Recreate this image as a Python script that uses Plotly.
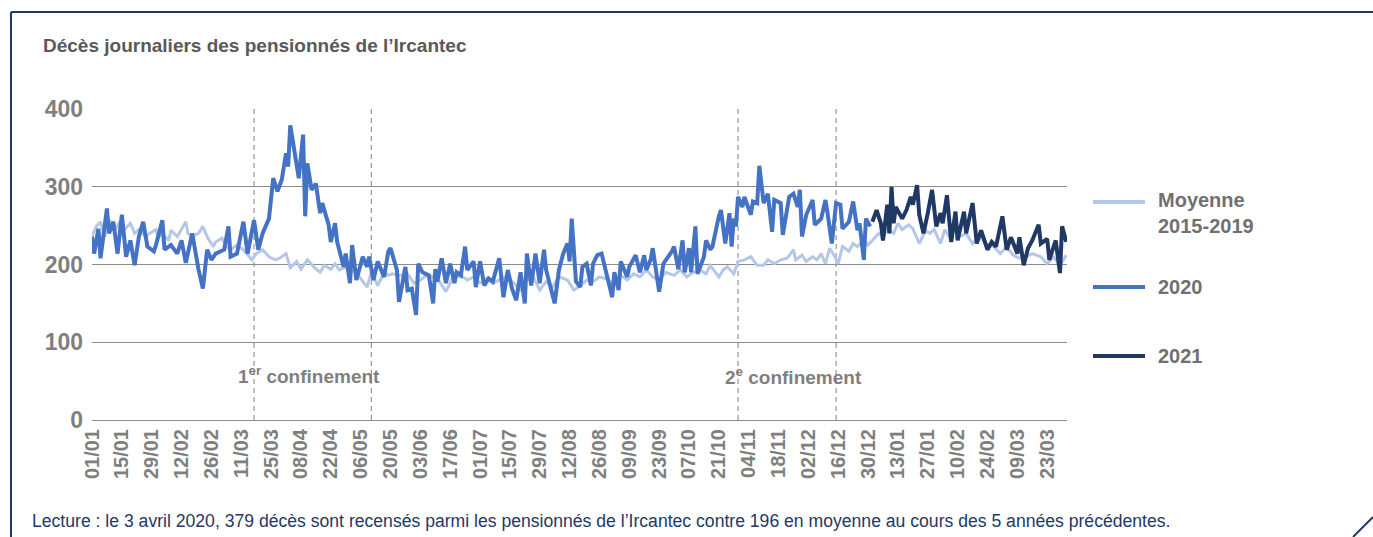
import pandas as pd
import plotly.graph_objects as go

START = pd.Timestamp("2020-01-01")

# Moyenne 2015-2019 (days since 01/01/2020, daily deaths)
days_moy = [0,2,4,6,8,11,13,15,18,20,22,25,27,30,31,33,36,37,40,42,44,45,47,50,52,54,55,57,58,61,63,65,68,71,75,77,80,83,86,88,91,93,96,98,101,104,107,109,112,114,116,119,121,123,126,129,131,134,137,139,141,144,148,151,154,157,160,163,166,169,173,176,179,182,185,188,191,194,198,201,204,207,210,213,216,219,223,226,229,232,235,238,241,244,248,251,254,257,260,263,266,269,273,276,279,282,285,288,290,294,296,298,301,303,306,309,312,315,317,320,323,326,329,330,333,335,338,340,342,344,346,348,350,352,355,357,359,362,364,366,369,371,373,376,378,380,383,385,388,391,393,395,398,400,402,405,407,410,413,416,420,423,426,429,432,435,438,441,445,448,451,454,457]
vals_moy = [236,249,255,236,257,245,255,244,253,240,245,236,240,245,234,240,231,244,236,245,255,240,236,240,249,236,231,223,229,234,223,219,225,219,206,214,219,210,206,208,214,196,204,194,206,197,190,199,194,201,193,197,188,193,182,171,190,173,190,186,188,186,188,176,180,186,184,178,165,182,186,180,184,176,182,176,180,184,176,167,180,184,167,178,171,184,180,167,173,180,178,184,182,176,186,180,188,184,193,184,180,190,186,193,184,190,193,188,199,184,193,197,188,204,206,210,199,199,206,201,206,208,219,206,212,204,210,206,214,201,221,212,201,223,217,227,223,231,225,231,240,236,245,240,253,245,251,246,227,244,240,245,227,245,236,245,236,240,227,236,225,223,214,223,212,208,210,214,210,201,210,199,212]

# 2020
days_2020 = [0,1,3,4,7,8,10,12,14,16,18,20,22,24,26,29,30,33,34,37,40,42,44,47,50,52,54,56,58,62,64,65,68,71,73,76,78,80,83,85,87,89,91,92,93,96,97,99,100,101,103,105,107,108,111,112,114,115,118,119,121,122,124,127,129,130,132,134,137,139,140,143,144,147,148,150,152,153,155,158,160,161,162,164,166,168,170,171,173,175,176,179,180,182,184,186,188,191,193,195,197,199,201,203,204,206,208,210,212,213,215,217,219,221,223,224,225,227,229,230,232,234,235,237,239,241,244,245,247,248,251,252,255,257,259,260,262,263,266,268,270,272,273,275,277,278,280,281,283,284,287,288,290,291,294,295,297,299,300,301,302,303,305,306,309,310,312,313,315,317,319,320,323,324,327,329,331,332,333,335,338,339,342,344,345,347,349,351,352,355,357,359,360,362,363,365]
vals_2020 = [236,214,246,208,272,240,255,214,264,210,231,199,236,255,223,217,225,257,219,225,214,231,202,240,193,169,219,206,214,219,249,210,214,255,214,257,219,240,259,311,294,309,343,326,379,326,311,367,262,330,296,304,266,279,251,229,253,229,197,214,176,225,180,210,197,210,180,204,184,217,221,193,152,197,167,169,135,201,190,186,150,194,178,208,176,201,176,190,186,223,193,204,171,204,173,182,178,208,158,193,169,154,190,150,214,173,214,176,219,193,169,150,193,214,227,204,259,178,171,197,201,173,201,212,214,193,158,190,167,204,184,197,212,190,212,193,206,221,165,201,208,217,223,194,231,190,221,190,249,188,210,231,219,223,262,270,227,266,223,259,249,287,274,287,264,281,279,327,279,291,242,283,279,238,287,291,274,296,236,264,283,251,259,283,266,227,279,277,246,255,281,244,253,206,259,249]

# 2021
days_2021 = [366,368,370,371,373,374,375,376,377,380,382,384,385,387,388,390,392,394,396,398,399,401,403,405,406,409,410,413,415,417,420,422,424,427,429,431,434,435,437,439,441,444,445,448,449,452,454,455,457]
vals_2021 = [255,270,253,231,277,240,300,253,274,259,270,287,277,302,264,240,266,296,249,266,253,289,229,268,231,268,240,279,227,244,219,229,223,262,219,235,214,235,199,221,231,251,227,233,206,231,189,249,229]

confinements = [("2020-03-17", "2020-05-11"), ("2020-10-30", "2020-12-15")]
tick_text = ["01/01", "15/01", "29/01", "12/02", "26/02", "11/03", "25/03", "08/04", "22/04", "06/05",
             "20/05", "03/06", "17/06", "01/07", "15/07", "29/07", "12/08", "26/08", "09/09", "23/09",
             "07/10", "21/10", "04/11", "18/11", "02/12", "16/12", "30/12", "13/01", "27/01", "10/02",
             "24/02", "09/03", "23/03"]
tick_dates = [START + pd.Timedelta(days=14 * i) for i in range(len(tick_text))]

def to_dates(days):
    return [START + pd.Timedelta(days=d) for d in days]

C_MOY = "#b4c7e7"
C_2020 = "#4472c4"
C_2021 = "#1f3864"
GRAY = "#7f7f7f"
NAVY = "#1f3864"
FONT = "Liberation Sans, Arial, sans-serif"

fig = go.Figure()
fig.add_trace(go.Scatter(x=to_dates(days_moy), y=vals_moy, mode="lines",
                         line=dict(color=C_MOY, width=3), name="Moyenne 2015-2019"))
fig.add_trace(go.Scatter(x=to_dates(days_2020), y=vals_2020, mode="lines",
                         line=dict(color=C_2020, width=4), name="2020"))
fig.add_trace(go.Scatter(x=to_dates(days_2021), y=vals_2021, mode="lines",
                         line=dict(color=C_2021, width=4), name="2021"))

shapes = []
for a, b in confinements:
    for d in (a, b):
        shapes.append(dict(type="line", xref="x", yref="y", x0=d, x1=d, y0=0, y1=412,
                           line=dict(color="#808080", width=1, dash="5px,4px"), layer="below"))

# legend (custom)
L, W, T, H = 92, 975, 109, 311
def px(x): return (x - L) / W
def py(y): return (T + H - y) / H

leg = [("Moyenne<br>2015-2019", C_MOY, 202, 213), ("2020", C_2020, 287, 287), ("2021", C_2021, 356, 356)]
annotations = []
for text, col, yl, yt in leg:
    shapes.append(dict(type="line", xref="paper", yref="paper", x0=px(1093), x1=px(1145),
                       y0=py(yl), y1=py(yl), line=dict(color=col, width=4)))
    annotations.append(dict(xref="paper", yref="paper", x=px(1156), y=py(yt), xanchor="left",
                            yanchor="middle", text=text, showarrow=False, align="left",
                            font=dict(family=FONT, size=20, color="#707070", weight="bold")))

# frame
shapes.append(dict(type="line", xref="paper", yref="paper", x0=px(11), x1=px(1373), y0=py(12), y1=py(12),
                   line=dict(color=NAVY, width=2)))
shapes.append(dict(type="line", xref="paper", yref="paper", x0=px(11), x1=px(11), y0=py(12), y1=py(537),
                   line=dict(color=NAVY, width=2)))
shapes.append(dict(type="line", xref="paper", yref="paper", x0=px(1353), x1=px(1373), y0=py(537), y1=py(517),
                   line=dict(color=NAVY, width=2)))

annotations.append(dict(xref="x", yref="y", x="2020-04-12", y=58, text="1<sup>er</sup> confinement",
                        showarrow=False, font=dict(family=FONT, size=19, color=GRAY, weight="bold")))
annotations.append(dict(xref="x", yref="y", x="2020-11-25", y=56, text="2<sup>e</sup> confinement",
                        showarrow=False, font=dict(family=FONT, size=19, color=GRAY, weight="bold")))
annotations.append(dict(xref="paper", yref="paper", x=px(30), y=py(521), xanchor="left", yanchor="middle",
                        text="Lecture : le 3 avril 2020, 379 décès sont recensés parmi les pensionnés de l’Ircantec contre 196 en moyenne au cours des 5 années précédentes.",
                        showarrow=False, font=dict(family=FONT, size=17.6, color=NAVY)))
annotations.append(dict(xref="paper", yref="paper", x=px(41), y=py(45), xanchor="left", yanchor="middle",
                        text="Décès journaliers des pensionnés de l’Ircantec", showarrow=False,
                        font=dict(family=FONT, size=19, color="#595959", weight="bold")))

fig.update_layout(
    width=1373, height=537, autosize=False,
    margin=dict(l=L, r=1373 - L - W, t=T, b=537 - T - H),
    paper_bgcolor="white", plot_bgcolor="white",
    showlegend=False, shapes=shapes, annotations=annotations,
    xaxis=dict(range=[START, START + pd.Timedelta(days=457.3)], tickvals=tick_dates, ticktext=tick_text,
               tickangle=-90, showgrid=False, zeroline=False, showline=False, ticks="",
               ticklabelstandoff=4,
               tickfont=dict(family=FONT, size=20, color=GRAY, weight="bold")),
    yaxis=dict(range=[0, 400], tickvals=[0, 100, 200, 300, 400], showgrid=True, gridcolor="#8c8c8c",
               gridwidth=1, zeroline=True, zerolinecolor="#8c8c8c", zerolinewidth=1, showline=False, ticks="",
               ticklabelstandoff=8,
               tickfont=dict(family=FONT, size=23, color=GRAY, weight="bold")),
)

fig.write_html("out.html", config={"displayModeBar": False},
               post_script="document.body.style.margin='0';")
